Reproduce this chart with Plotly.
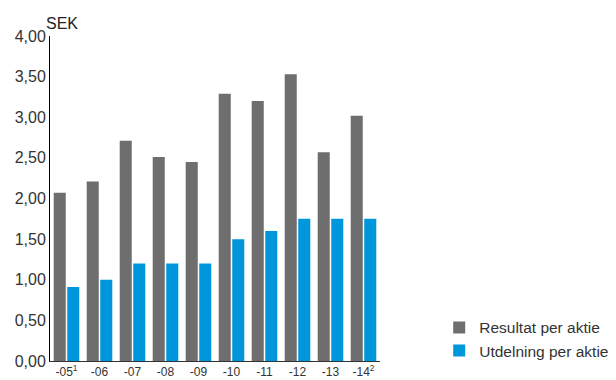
import plotly.graph_objects as go

categories = ["-05<sup>1</sup>", "-06", "-07", "-08", "-09", "-10", "-11", "-12", "-13", "-14<sup>2</sup>"]
resultat = [2.07, 2.21, 2.71, 2.51, 2.45, 3.29, 3.20, 3.53, 2.57, 3.02]
utdelning = [0.91, 1.00, 1.20, 1.20, 1.20, 1.50, 1.60, 1.75, 1.75, 1.75]
ytick_vals = [0, 0.5, 1.0, 1.5, 2.0, 2.5, 3.0, 3.5, 4.0]

fig = go.Figure()
fig.add_trace(go.Bar(x=categories, y=resultat, name="Resultat per aktie",
                     marker=dict(color="#6e6e6e", line=dict(width=0))))
fig.add_trace(go.Bar(x=categories, y=utdelning, name="Utdelning per aktie",
                     marker=dict(color="#0096db", line=dict(width=0))))

font_family = "Liberation Sans, Arial, sans-serif"
fig.update_layout(
    width=616, height=380,
    margin=dict(l=50, r=236, t=36, b=19),
    paper_bgcolor="white", plot_bgcolor="white",
    barmode="group", bargap=0.18, bargroupgap=0.11,
    separators=", ",
    font=dict(family=font_family, color="#333333"),
    showlegend=True,
    legend=dict(xref="container", yref="container", x=0.713, y=0.182,
                xanchor="left", yanchor="top",
                font=dict(size=15.5, color="#333333"),
                itemwidth=30, tracegroupgap=0, bgcolor="rgba(0,0,0,0)"),
    xaxis=dict(showline=True, linecolor="#333333", linewidth=1, automargin=False,
               ticks="", tickfont=dict(size=12, color="#333333"),
               showgrid=False, zeroline=False),
    yaxis=dict(range=[0, 4], tickvals=ytick_vals, tickformat=".2f", automargin=False,
               showline=True, linecolor="#000000", linewidth=1,
               ticks="", tickfont=dict(size=16, color="#333333"),
               showgrid=False, zeroline=False),
    annotations=[dict(text="SEK", x=0, xref="paper", xanchor="left",
                      y=1, yref="paper", yanchor="bottom", yshift=2, xshift=-6,
                      showarrow=False, font=dict(size=16, color="#222222"))],
)

fig.write_html("out.html", config={"displayModeBar": False},
               post_script="document.body.style.margin='0';")
